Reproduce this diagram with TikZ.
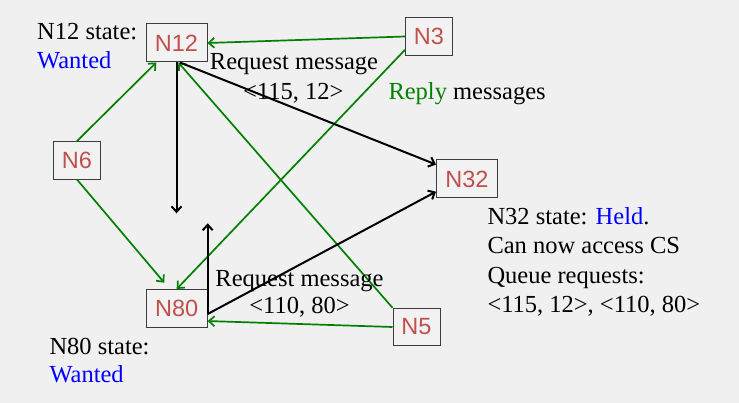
\documentclass[tikz,border=0pt]{standalone}
\usepackage{fontspec}
\setmainfont{Liberation Serif}
\newfontfamily\nodefont{Liberation Sans}
\usetikzlibrary{arrows.meta,calc}
\definecolor{bg}{RGB}{240,240,240}
\definecolor{boxfill}{RGB}{242,242,242}
\definecolor{nred}{RGB}{192,80,77}
\definecolor{rgreen}{RGB}{0,128,0}
\definecolor{sblue}{RGB}{0,0,255}
\definecolor{bord}{RGB}{60,60,60}
\begin{document}
\begin{tikzpicture}[x=1pt,y=-1pt,
  nbox/.style={draw=bord, line width=1pt, fill=boxfill, inner sep=0pt,
    text=nred, font=\nodefont\fontsize{23.5}{28}\selectfont},
  bigbox/.style={nbox, minimum width=61pt, minimum height=38pt},
  smallbox/.style={nbox, minimum width=47pt, minimum height=37.5pt},
  greenarr/.style={draw=rgreen, line width=1.7pt, -{Straight Barb[length=5.5pt,width=10pt]}},
  blackarr/.style={draw=black, line width=2pt, -{Straight Barb[length=5.5pt,width=10pt]}},
  lbl/.style={font=\fontsize{24.5}{29.3}\selectfont, inner sep=0pt, anchor=base west},
  clbl/.style={font=\fontsize{24.5}{29.3}\selectfont, inner sep=0pt, anchor=base}]
\fill[bg] (0,0) rectangle (739,403);
\useasboundingbox (0,0) rectangle (739,403);

% boxes
\node[bigbox] (N12) at (176.5,43) {N12};
\node[smallbox] (N3) at (429,36.5) {N3};
\node[smallbox] (N6) at (77,160.3) {N6};
\node[bigbox] (N32) at (467,179) {N32};
\node[bigbox] (N80) at (176.7,308.5) {N80};
\node[smallbox] (N5) at (416.5,327) {N5};

% free ends
\coordinate (n80r) at ($(N80.east)+(0,5.5)$);
\coordinate (downend) at (N12.south |- 0,213.3);
\coordinate (upend) at (n80r |- 0,223.3);
\coordinate (n6end) at (164.3,282.7);

% green reply arrows
\draw[greenarr] (N3.west) -- (N12.east);
\draw[greenarr] (N3.209) -- (N80.north);
\draw[greenarr] (N6.north) -- (N12.224);
\draw[greenarr] (N6.south) -- (n6end);
\draw[greenarr] (N5.north west) -- ([xshift=1.8pt]N12.south);
\draw[greenarr] (N5.west) -- (N80.338);

% black request arrows
\draw[blackarr] (N12.south) -- (downend);
\draw[blackarr] ([xshift=3.5pt]N12.south) -- (N32.155);
\draw[blackarr] (n80r) -- (upend);
\draw[blackarr] (n80r) -- ([yshift=-12.7pt]N32.west);

% labels
\node[lbl] (s12a) at (37,40) {N12 state:};
\node[lbl, text=sblue] (s12b) at (37,68.3) {Wanted};
\node[clbl] (r1a) at (294,70) {Request message};
\node[clbl] (r1b) at (293.3,100) {<115, 12>};
\node[lbl] (rep) at (388.3,100) {\textcolor{rgreen}{Reply} messages};
\node[clbl] (r2a) at (299.5,286.7) {Request message};
\node[clbl] (r2b) at (299.5,314) {<110, 80>};
\node[lbl] (s80a) at (49.3,355) {N80 state:};
\node[lbl, text=sblue] (s80b) at (49.3,382.7) {Wanted};
\node[lbl] (s32a) at (487.3,225) {N32 state: \textcolor{sblue}{Held}.};
\node[lbl] (s32b) at (487.3,254) {Can now access CS};
\node[lbl] (s32c) at (487.3,283.3) {Queue requests:};
\node[lbl] (s32d) at (487.3,313) {<115, 12>, <110, 80>};
\end{tikzpicture}
\end{document}
